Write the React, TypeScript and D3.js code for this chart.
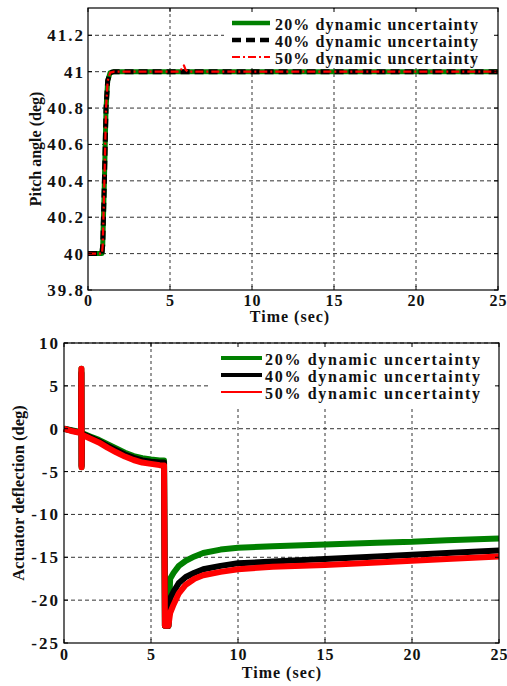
import React from "react";
import * as d3 from "d3";

// ---- Top plot data (pitch angle) ----
const pitchTime = [0, 0.85, 0.9, 1.0, 1.1, 1.2, 1.35, 1.6, 25];
const pitch20 = [40, 40, 40.05, 40.4, 40.8, 40.95, 40.995, 41, 41];
const pitch40 = [40, 40, 40.05, 40.4, 40.8, 40.95, 40.995, 41, 41];
const pitch50Time = [0, 0.85, 0.9, 1.0, 1.1, 1.2, 1.35, 1.6, 5.6, 5.85, 5.95, 6.1, 25];
const pitch50 = [40, 40, 40.05, 40.4, 40.8, 40.95, 40.995, 41, 41, 41.035, 41.01, 41, 41];

// ---- Bottom plot data (actuator deflection) ----
const actTime = [0, 0.5, 0.98, 1.0, 1.01, 1.03, 1.5, 2, 2.5, 3, 3.5, 4, 4.5, 5, 5.5, 5.75, 5.8, 5.85, 6.0, 6.1, 6.3, 6.6, 7, 7.5, 8, 9, 10, 12, 15, 18, 20, 22, 25];
const act20 = [0, -0.2, -0.4, 7, -4.5, -0.5, -0.9, -1.3, -1.8, -2.3, -2.8, -3.2, -3.45, -3.6, -3.7, -3.7, -23, -23, -23, -17.5, -16.8, -16.0, -15.4, -14.9, -14.5, -14.1, -13.9, -13.7, -13.5, -13.3, -13.2, -13.0, -12.8];
const act40 = [0, -0.25, -0.45, 6.5, -4.3, -0.6, -1.0, -1.45, -2.0, -2.5, -3.0, -3.4, -3.7, -3.85, -3.95, -3.95, -23, -23, -23, -19.8, -19.0, -18.0, -17.3, -16.8, -16.4, -16.0, -15.7, -15.5, -15.2, -14.9, -14.7, -14.5, -14.2];
const act50 = [0, -0.3, -0.5, 7, -4.5, -0.7, -1.15, -1.6, -2.2, -2.75, -3.25, -3.65, -3.95, -4.1, -4.25, -4.3, -23, -23, -23, -21.5, -20.5, -19.2, -18.2, -17.5, -17.1, -16.7, -16.4, -16.1, -15.9, -15.6, -15.4, -15.2, -14.9];

const xTicks = [0, 5, 10, 15, 20, 25];
const pitchTicks = [39.8, 40, 40.2, 40.4, 40.6, 40.8, 41, 41.2];
const actTicks = [-25, -20, -15, -10, -5, 0, 5, 10];
const legendLabels = ["20% dynamic uncertainty", "40% dynamic uncertainty", "50% dynamic uncertainty"];

const FONT = "'Liberation Serif', 'Times New Roman', serif";
const GREEN = "#008000";
const RED = "#ff0000";

type Pt = [number, number];
const zip = (t: number[], v: number[]): Pt[] => t.map((x, i) => [x, v[i]]);

function Panel(props: {
  x0: number; x1: number; y0: number; y1: number;
  yDomain: [number, number]; yTicks: number[]; yFmt: (v: number) => string;
  yLabel: string; yLabelX: number; yLabelSize: number; yTickX: number; xTickY: number; xLabelY: number; xLabelX: number;
  children: (x: d3.ScaleLinear<number, number>, y: d3.ScaleLinear<number, number>) => React.ReactNode;
  legend: () => React.ReactNode;
}) {
  const { x0, x1, y0, y1 } = props;
  const x = d3.scaleLinear().domain([0, 25]).range([x0, x1]);
  const y = d3.scaleLinear().domain(props.yDomain).range([y1, y0]);
  const tl = 4;
  return (
    <g>
      {xTicks.slice(1, -1).map((t) => (
        <line key={"gx" + t} x1={x(t)} x2={x(t)} y1={y0} y2={y1} stroke="#333" strokeWidth={1} strokeDasharray="3,3" />
      ))}
      {props.yTicks.slice(1).map((t) => (
        <line key={"gy" + t} x1={x0} x2={x1} y1={y(t)} y2={y(t)} stroke="#333" strokeWidth={1} strokeDasharray="4,3" />
      ))}
      {props.children(x, y)}
      {props.legend()}
      <rect x={x0} y={y0} width={x1 - x0} height={y1 - y0} fill="none" stroke="#000" strokeWidth={1.2} />
      {xTicks.map((t) => (
        <g key={"tx" + t}>
          <line x1={x(t)} x2={x(t)} y1={y1} y2={y1 - tl} stroke="#000" />
          <line x1={x(t)} x2={x(t)} y1={y0} y2={y0 + tl} stroke="#000" />
          <text x={x(t) + 0.5} y={props.xTickY} textAnchor="middle" fontFamily={FONT} fontWeight="bold" fontSize={16} letterSpacing={1} fill="#111">{t}</text>
        </g>
      ))}
      {props.yTicks.map((t) => (
        <g key={"ty" + t}>
          <line x1={x0} x2={x0 + tl} y1={y(t)} y2={y(t)} stroke="#000" />
          <line x1={x1} x2={x1 - tl} y1={y(t)} y2={y(t)} stroke="#000" />
          <text x={props.yTickX + 2} y={y(t)} dy="0.35em" textAnchor="end" fontFamily={FONT} fontWeight="bold" fontSize={17} letterSpacing={2} fill="#111">{props.yFmt(t)}</text>
        </g>
      ))}
      <text x={props.xLabelX} y={props.xLabelY} textAnchor="middle" fontFamily={FONT} fontWeight="bold" fontSize={16} letterSpacing={1} fill="#111">Time (sec)</text>
      <text transform={`translate(${props.yLabelX},${(y0 + y1) / 2}) rotate(-90)`} textAnchor="middle" dy="0.35em" fontFamily={FONT} fontWeight="bold" fontSize={props.yLabelSize} fill="#111">{props.yLabel}</text>
    </g>
  );
}

export default function App() {
  const line = (x: d3.ScaleLinear<number, number>, y: d3.ScaleLinear<number, number>) =>
    d3.line<Pt>().x((d) => x(d[0])).y((d) => y(d[1]));

  return (
    <svg width={507} height={686} style={{ position: "absolute", left: 0, top: 0, background: "#fff" }}>
      <rect width={507} height={686} fill="#fff" />
      <Panel
        x0={88} x1={498} y0={8} y1={290}
        yDomain={[39.8, 41.35]} yTicks={pitchTicks} yFmt={(v) => d3.format("~g")(+v.toFixed(1))}
        yLabel="Pitch angle (deg)" yLabelX={35} yLabelSize={16} yTickX={83} xTickY={306} xLabelY={322} xLabelX={290}
        legend={() => (
          <g>
            <rect x={224} y={9} width={273} height={59} fill="#fff" />
            {legendLabels.map((lab, i) => {
              const ly = 23 + i * 17;
              const styles = [
                { stroke: GREEN, w: 4.5, dash: undefined },
                { stroke: "#000", w: 4.5, dash: "9,5" },
                { stroke: RED, w: 2, dash: "8,3,2,3" },
              ][i];
              return (
                <g key={lab}>
                  <line x1={232} x2={270} y1={ly} y2={ly} stroke={styles.stroke} strokeWidth={styles.w} strokeDasharray={styles.dash} />
                  <text x={275} y={ly + 7} fontFamily={FONT} fontWeight="bold" fontSize={16} textLength={203} lengthAdjust="spacing" fill="#111">{lab}</text>
                </g>
              );
            })}
          </g>
        )}
      >
        {(x, y) => (
          <g>
            <path d={line(x, y)(zip(pitchTime, pitch20)) || ""} fill="none" stroke={GREEN} strokeWidth={5} strokeLinejoin="round" />
            <path d={line(x, y)(zip(pitchTime, pitch40)) || ""} fill="none" stroke="#000" strokeWidth={5} strokeDasharray="9,5" strokeLinejoin="round" />
            <path d={line(x, y)(zip(pitch50Time, pitch50)) || ""} fill="none" stroke={RED} strokeWidth={2.2} strokeDasharray="8,3,2,3" strokeLinejoin="round" />
          </g>
        )}
      </Panel>
      <Panel
        x0={64} x1={499} y0={343} y1={643}
        yDomain={[-25, 10]} yTicks={actTicks} yFmt={(v) => String(v)}
        yLabel="Actuator deflection (deg)" yLabelX={18} yLabelSize={16.5} yTickX={58} xTickY={660} xLabelY={678} xLabelX={282}
        legend={() => (
          <g>
            <rect x={211} y={344} width={286} height={62} fill="#fff" />
            {legendLabels.map((lab, i) => {
              const ly = 358 + i * 17;
              const styles = [
                { stroke: GREEN, w: 4 },
                { stroke: "#000", w: 4 },
                { stroke: RED, w: 2 },
              ][i];
              return (
                <g key={lab}>
                  <line x1={221} x2={262} y1={ly} y2={ly} stroke={styles.stroke} strokeWidth={styles.w} />
                  <text x={265} y={ly + 7} fontFamily={FONT} fontWeight="bold" fontSize={16} textLength={215} lengthAdjust="spacing" fill="#111">{lab}</text>
                </g>
              );
            })}
          </g>
        )}
      >
        {(x, y) => (
          <g>
            <path d={line(x, y)(zip(actTime, act20)) || ""} fill="none" stroke={GREEN} strokeWidth={6} strokeLinejoin="round" />
            <path d={line(x, y)(zip(actTime, act40)) || ""} fill="none" stroke="#000" strokeWidth={6} strokeLinejoin="round" />
            <path d={line(x, y)(zip(actTime, act50)) || ""} fill="none" stroke={RED} strokeWidth={6} strokeLinejoin="round" />
          </g>
        )}
      </Panel>
    </svg>
  );
}
